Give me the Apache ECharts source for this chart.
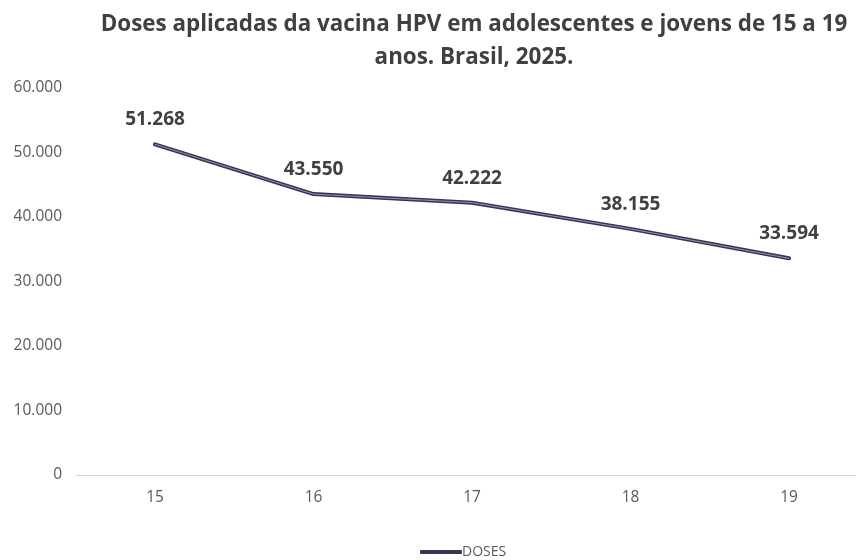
<!DOCTYPE html>
<html>
<head>
<meta charset="utf-8">
<script src="https://cdn.jsdelivr.net/npm/echarts@6/dist/echarts.min.js"></script>
<style>html,body{margin:0;padding:0;background:#fff}#c{width:856px;height:560px}</style>
</head>
<body>
<div id="c"></div>
<script>
const categories = ['15', '16', '17', '18', '19'];
const doses = [51268, 43550, 42222, 38155, 33594];
const yTicks = [0, 10000, 20000, 30000, 40000, 50000, 60000];

function fmt(v) {
  return String(v).replace(/\B(?=(\d{3})+(?!\d))/g, '.');
}
const FONT = 'Open Sans';
const yMin = yTicks[0], yMax = yTicks[yTicks.length - 1], yStep = yTicks[1] - yTicks[0];
const chart = echarts.init(document.getElementById('c'), null, { renderer: 'canvas' });
chart.setOption({
  animation: false,
  backgroundColor: '#ffffff',
  title: {
    text: 'Doses aplicadas da vacina HPV em adolescentes e jovens de 15 a 19\nanos. Brasil, 2025.',
    left: 469,
    top: 3,
    textAlign: 'center',
    textStyle: { fontFamily: FONT, fontSize: 22.4, fontWeight: 'bold', color: '#404040', lineHeight: 33 }
  },
  legend: {
    data: ['DOSES'],
    top: 545,
    left: 420,
    icon: 'roundRect',
    itemWidth: 42,
    itemHeight: 4,
    itemGap: 4,
    padding: 0,
    textStyle: { fontFamily: FONT, fontSize: 14, color: '#595959', padding: [0, 0, 0, -5] }
  },
  grid: [
    { left: 155, top: 88, right: 67, height: 387, containLabel: false },
    { left: 76, top: 88, right: 0, height: 387, containLabel: false }
  ],
  xAxis: [
    {
      type: 'category',
      gridIndex: 0,
      data: categories,
      boundaryGap: false,
      axisLine: { show: false },
      axisTick: { show: false },
      axisLabel: { fontFamily: FONT, fontSize: 15.5, color: '#595959', margin: 15 }
    },
    {
      type: 'category',
      gridIndex: 1,
      data: categories,
      boundaryGap: true,
      axisLine: { lineStyle: { color: '#d9d9d9', width: 1 } },
      axisTick: { show: false },
      axisLabel: { show: false }
    }
  ],
  yAxis: [
    {
      type: 'value',
      gridIndex: 0,
      min: yMin, max: yMax, interval: yStep,
      splitLine: { show: false },
      axisLine: { show: false },
      axisTick: { show: false },
      axisLabel: { show: false }
    },
    {
      type: 'value',
      gridIndex: 1,
      min: yMin, max: yMax, interval: yStep,
      splitLine: { show: false },
      axisLine: { show: false },
      axisTick: { show: false },
      axisLabel: { fontFamily: FONT, fontSize: 15.5, color: '#595959', margin: 14, padding: [3, 0, 0, 0], formatter: v => fmt(v) }
    }
  ],
  series: [
    {
      name: 'DOSES',
      type: 'line',
      xAxisIndex: 0,
      yAxisIndex: 0,
      data: doses,
      showSymbol: true,
      symbol: 'circle',
      symbolSize: 0,
      color: '#3d3155',
      lineStyle: { color: '#3d3155', width: 4, cap: 'round', join: 'round' },
      label: {
        show: true,
        position: 'top',
        distance: 15,
        fontFamily: FONT,
        fontSize: 19,
        fontWeight: 'bold',
        color: '#404040',
        formatter: p => fmt(p.value)
      },
      z: 2
    },
    {
      name: 'inner',
      type: 'line',
      xAxisIndex: 0,
      yAxisIndex: 0,
      data: doses,
      showSymbol: false,
      symbol: 'none',
      silent: true,
      lineStyle: { color: '#9a90ad', width: 1, cap: 'round', join: 'round' },
      z: 3
    }
  ]
});
</script>
</body>
</html>
